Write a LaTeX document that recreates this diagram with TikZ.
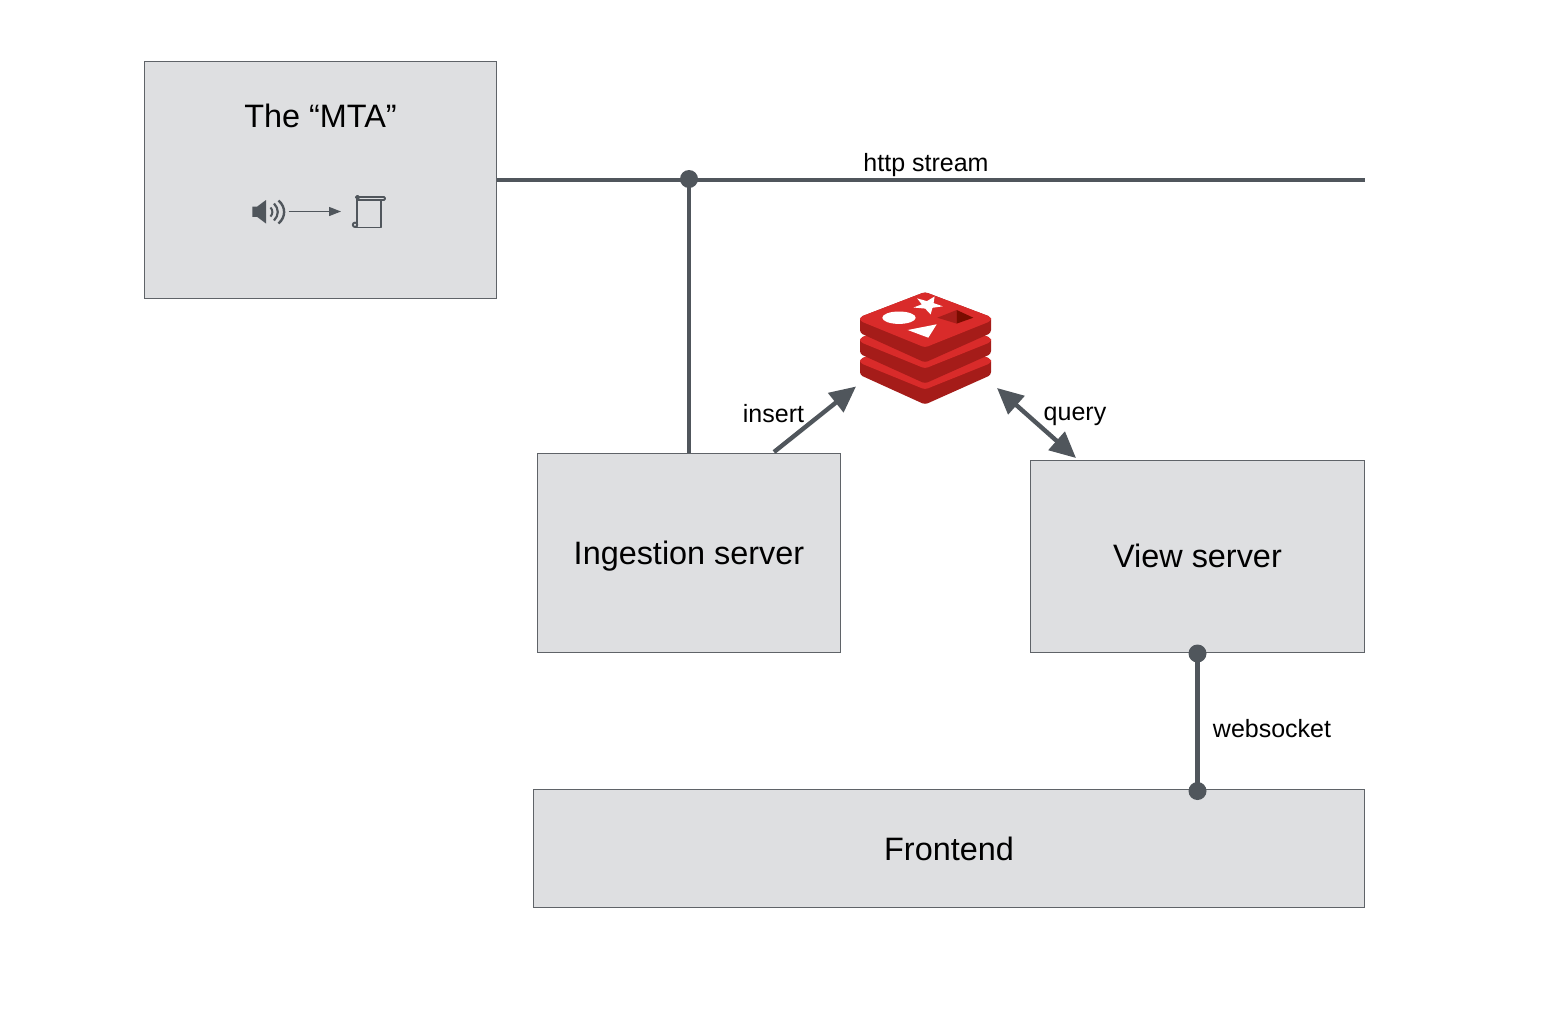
\documentclass[tikz,border=0pt]{standalone}
\usepackage{fontspec}
\setmainfont{Liberation Sans}
\usetikzlibrary{arrows.meta,calc,shapes.geometric}
\definecolor{boxfill}{HTML}{DEDFE1}
\definecolor{boxline}{HTML}{5F6368}
\definecolor{conn}{HTML}{50565C}
\definecolor{redtop}{HTML}{D92B2A}
\definecolor{reddark}{HTML}{A51C19}
\definecolor{redmid}{HTML}{A81E1B}
\definecolor{reddeep}{HTML}{7A0C00}
\tikzset{
  box/.style={draw=boxline,fill=boxfill,line width=1pt,inner sep=0pt},
  boxtext/.style={inner sep=0pt,font=\fontsize{32.4}{36}\selectfont},
  small/.style={inner sep=0pt,font=\fontsize{25}{30}\selectfont},
  wire/.style={draw=conn,line width=4.4pt},
  arrowwire/.style={draw=conn,line width=4.4pt},
  bighead/.style={},
  dot/.style={circle,fill=conn,inner sep=0pt,minimum size=18pt},
  icon/.style={draw=conn,line width=1.9pt,line join=round}
}
\begin{document}
\begin{tikzpicture}[x=1pt,y=-1pt]
\useasboundingbox (0,0) rectangle (1548,1010);
\node[box,minimum width=352pt,minimum height=237pt] (mta) at (320.5,179.5) {};
\node[box,minimum width=303pt,minimum height=199pt] (ingest) at (689,552.5) {};
\node[box,minimum width=334pt,minimum height=192pt] (view) at (1197.5,556) {};
\node[box,minimum width=831pt,minimum height=118pt] (frontend) at (949,848) {};
\node[boxtext] (mtalabel) at (320.5,116) {The “MTA”};
\node[boxtext] (ingestlabel) at (689,556.5) {Ingestion server};
\node[boxtext] (viewlabel) at (1197.5,556) {View server};
\node[boxtext] (frontlabel) at (949,849) {Frontend};
% connectors
\coordinate (streamend) at (1364.5,180);
\coordinate (redisin) at (856,386.5);
\coordinate (redisout) at (997,388);
\coordinate (ingestout) at (774,452);
\coordinate (viewin) at (1076,458);
\draw[wire] (mta.east |- streamend) -- (streamend);
\node[dot] (junction) at (689,179) {};
\draw[wire] (junction.center) -- (ingest.north);
\node[dot] (viewdot) at (1197.5,653.5) {};
\node[dot] (frontdot) at (1197.5,791) {};
\draw[wire] (viewdot.center) -- (frontdot.center);
\draw[arrowwire,-{Triangle[length=26pt,width=24pt]}] (ingestout) -- (redisin);
\draw[arrowwire,{Triangle[length=26pt,width=24pt]}-{Triangle[length=26pt,width=24pt]}] (redisout) -- (viewin);
% labels
\node[small] (httplabel) at (926,165) {http stream};
\node[small] (insertlabel) at (773.5,414) {insert};
\node[small] (querylabel) at (1075,416) {query};
\node[small] (wslabel) at (1272,729) {websocket};
% redis logo
\begin{scope}[line join=round]
\foreach \dy in {42,21,0}{
  \fill[reddark,rounded corners=3pt] (860,{317+\dy}) -- (925,{292+\dy}) -- (991,{317+\dy}) -- (991,{333+\dy}) -- (925,{362.5+\dy}) -- (860,{333+\dy}) -- cycle;
  \fill[redtop,rounded corners=3pt] (860,{317+\dy}) -- (925,{292+\dy}) -- (991,{317+\dy}) -- (991,{321+\dy}) -- (925,{347.5+\dy}) -- (860,{321+\dy}) -- cycle;
}
\fill[white] (899,317.7) ellipse [x radius=16.7pt,y radius=6.2pt];
\fill[white] (930.6,314.4) -- (932.5,307.8) -- (942.8,306.3) -- (933.6,303.1) -- (934.6,296.5) -- (926.9,301.1) -- (917.2,298.4) -- (921.8,304.4) -- (913.5,307.5) -- (925.2,308.6) -- cycle;
\fill[white] (907.7,330) -- (936.7,324.3) -- (928.3,337.7) -- cycle;
\fill[redmid] (937.3,317.7) -- (956.7,310) -- (956.7,323.6) -- cycle;
\fill[reddeep] (956.7,310) -- (973.3,317.7) -- (956.7,323.6) -- cycle;
\end{scope}
% icon
\fill[conn] (252.3,206.7) -- (257,206.7) -- (266,200) -- (266,223.5) -- (257,216.8) -- (252.3,216.8) -- cycle;
\draw[icon,line width=2pt] (270.5,207.5) .. controls (273,210) and (273,214) .. (270.5,216.5);
\draw[icon,line width=2.2pt] (274,203.5) .. controls (279,208.5) and (279,215.5) .. (274,220.5);
\draw[icon,line width=2.4pt] (278.5,200.5) .. controls (286,207) and (286,217) .. (278.5,223.5);
\coordinate (iconfrom) at (288.5,211.5);
\coordinate (iconto) at (341,211.5);
\draw[draw=conn,line width=1.3pt,-{Triangle[length=12pt,width=9pt]}] (iconfrom) -- (iconto);
\draw[icon] (357,226.5) -- (357,197) -- (384,197) .. controls (385.5,197) and (385.5,200) .. (384,200) -- (358,200);
\draw[icon] (381,199.5) -- (381,227.5) -- (355,227.5);
\draw[icon] (355,224.8) circle [radius=2.2pt];
\draw[icon] (357.5,197.3) circle [radius=1.6pt];
\end{tikzpicture}
\end{document}
